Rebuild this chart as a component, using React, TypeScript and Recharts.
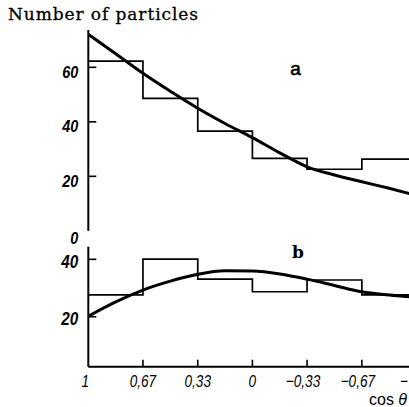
import { ComposedChart, Line, XAxis, YAxis } from "recharts";

// bin edges along cos θ (1 on the left, −1 on the right, cut by the frame)
const binEdges = [1, 0.667, 0.333, 0, -0.333, -0.667, -1];
const edgeLabels = ["1", "0,67", "0,33", "0", "−0,33", "−0,67", "−"];

// panel a: histogram counts per bin, and the smooth fit
const countsA = [62.3, 48.6, 36.6, 26.6, 22.6, 26.3];
const fitCosA = [1, 0.833, 0.667, 0.5, 0.333, 0.167, 0, -0.167, -0.333, -0.5, -0.667, -0.833, -1];
const fitValA = [72.1, 65, 57.8, 51.2, 45.0, 39.4, 34.2, 28.6, 23.5, 20.5, 18.0, 15.6, 13.0];

// panel b
const countsB = [27.6, 40.1, 33.1, 28.7, 32.8, 27.6];
const fitCosB = [1, 0.833, 0.667, 0.5, 0.333, 0.167, 0, -0.167, -0.333, -0.5, -0.667, -0.833, -1];
const fitValB = [20.2, 25.2, 29.3, 32.4, 34.8, 36.0, 35.9, 34.9, 33.1, 30.9, 28.7, 27.6, 26.8];

const ticksA = [0, 20, 40, 60];
const ticksB = [20, 40];

const stepData = (counts: number[]) =>
  binEdges.map((cos, i) => ({ cos, n: counts[Math.min(i, counts.length - 1)] }));

const fitData = (cos: number[], vals: number[]) =>
  cos.map((c, i) => ({ cos: c, n: vals[i] }));

const tickFont = "'Liberation Sans', 'DejaVu Sans', sans-serif";

function YTick(props: any) {
  const { x, y, payload, size, dyv } = props;
  const zero = payload.value === 0;
  return (
    <g>
      {!zero && <line x1={x} x2={x + 8} y1={y} y2={y} stroke="#000" strokeWidth={1.6} />}
      <text
        transform={`translate(${x - 10},${y + (zero ? 13 : dyv)}) scale(0.85,1)`}
        textAnchor="end"
        fontFamily={tickFont}
        fontStyle="italic"
        fontWeight="bold"
        fontSize={size}
        fill="#000"
      >
        {payload.value}
      </text>
    </g>
  );
}

function XTick(props: any) {
  const { x, y, payload, showLabel } = props;
  const idx = binEdges.indexOf(payload.value);
  const label = edgeLabels[idx] ?? "";
  const isFirst = payload.value === 1;
  const neg = payload.value < 0;
  const last = payload.value === -1;
  const lx = x + (isFirst ? -3 : last ? -12.5 : neg ? -4 : 0);
  return (
    <g>
      {!isFirst && <line x1={x} x2={x} y1={y} y2={y - 7} stroke="#000" strokeWidth={1.6} />}
      {showLabel && (
        <text
          transform={`translate(${lx},${y + 20.5}) scale(0.8,1)`}
          textAnchor="middle"
          fontFamily={tickFont}
          fontStyle="italic"
          fontSize={17}
          fill="#000"
        >
          {label}
        </text>
      )}
    </g>
  );
}

export default function App() {
  return (
    <div
      style={{
        position: "absolute",
        left: 0,
        top: 0,
        width: 409,
        height: 407,
        overflow: "hidden",
        background: "#fff",
      }}
    >
      <div style={{ position: "absolute", left: 0, top: 0 }}>
        <ComposedChart
          width={440}
          height={250}
          margin={{ top: 30, right: 23.5, bottom: 19.2, left: 0 }}
        >
          <XAxis
            dataKey="cos"
            type="number"
            domain={[-1, 1]}
            reversed
            ticks={binEdges}
            interval={0}
            height={0}
            tickSize={0}
            tickMargin={0}
            tickLine={false}
            axisLine={{ stroke: "#000", strokeWidth: 2 }}
            tick={<XTick showLabel={false} />}
            allowDataOverflow
          />
          <YAxis
            type="number"
            domain={[0, 73.7]}
            ticks={ticksA}
            interval={0}
            width={88.3}
            tickSize={0}
            tickMargin={0}
            tickLine={false}
            axisLine={{ stroke: "#000", strokeWidth: 2 }}
            tick={<YTick size={17} dyv={10.5} />}
            allowDataOverflow
          />
          <Line
            data={stepData(countsA)}
            dataKey="n"
            type="stepAfter"
            stroke="#000"
            strokeWidth={1.7}
            dot={false}
            activeDot={false}
            isAnimationActive={false}
          />
          <Line
            data={fitData(fitCosA, fitValA)}
            dataKey="n"
            type="monotone"
            stroke="#000"
            strokeWidth={3}
            dot={false}
            activeDot={false}
            isAnimationActive={false}
          />
        </ComposedChart>
      </div>

      <div style={{ position: "absolute", left: 0, top: 200 }}>
        <ComposedChart
          width={440}
          height={207}
          margin={{ top: 46.7, right: 23.5, bottom: 0, left: 0 }}
        >
          <XAxis
            dataKey="cos"
            type="number"
            domain={[-1, 1]}
            reversed
            ticks={binEdges}
            interval={0}
            height={40.3}
            tickSize={0}
            tickMargin={0}
            tickLine={false}
            axisLine={{ stroke: "#000", strokeWidth: 2 }}
            tick={<XTick showLabel />}
            allowDataOverflow
          />
          <YAxis
            type="number"
            domain={[2.6, 44.4]}
            ticks={ticksB}
            interval={0}
            width={88.3}
            tickSize={0}
            tickMargin={0}
            tickLine={false}
            axisLine={{ stroke: "#000", strokeWidth: 2 }}
            tick={<YTick size={18} dyv={8.5} />}
            allowDataOverflow
          />
          <Line
            data={stepData(countsB)}
            dataKey="n"
            type="stepAfter"
            stroke="#000"
            strokeWidth={1.7}
            dot={false}
            activeDot={false}
            isAnimationActive={false}
          />
          <Line
            data={fitData(fitCosB, fitValB)}
            dataKey="n"
            type="monotone"
            stroke="#000"
            strokeWidth={3}
            dot={false}
            activeDot={false}
            isAnimationActive={false}
          />
        </ComposedChart>
      </div>

      <svg
        width={409}
        height={407}
        style={{ position: "absolute", left: 0, top: 0, pointerEvents: "none" }}
      >
        <text
          x={8}
          y={20}
          fontFamily="'DejaVu Serif', serif"
          fontSize={17}
          textLength={190}
          stroke="#000"
          strokeWidth={0.3}
          fill="#000"
        >
          Number of particles
        </text>
        <text
          x={295.5}
          y={75}
          textAnchor="middle"
          fontFamily="'Liberation Sans', Arial, sans-serif"
          fontSize={19}
          stroke="#000"
          strokeWidth={0.6}
          fill="#000"
        >
          a
        </text>
        <text
          x={298}
          y={258}
          textAnchor="middle"
          fontFamily="'DejaVu Serif', serif"
          fontWeight="bold"
          fontSize={17}
          fill="#000"
        >
          b
        </text>
        <text x={369} y={405} fontFamily="'Liberation Sans', Arial, sans-serif" fontSize={16} fill="#000">
          cos <tspan fontStyle="italic">θ</tspan>
        </text>
      </svg>
    </div>
  );
}
